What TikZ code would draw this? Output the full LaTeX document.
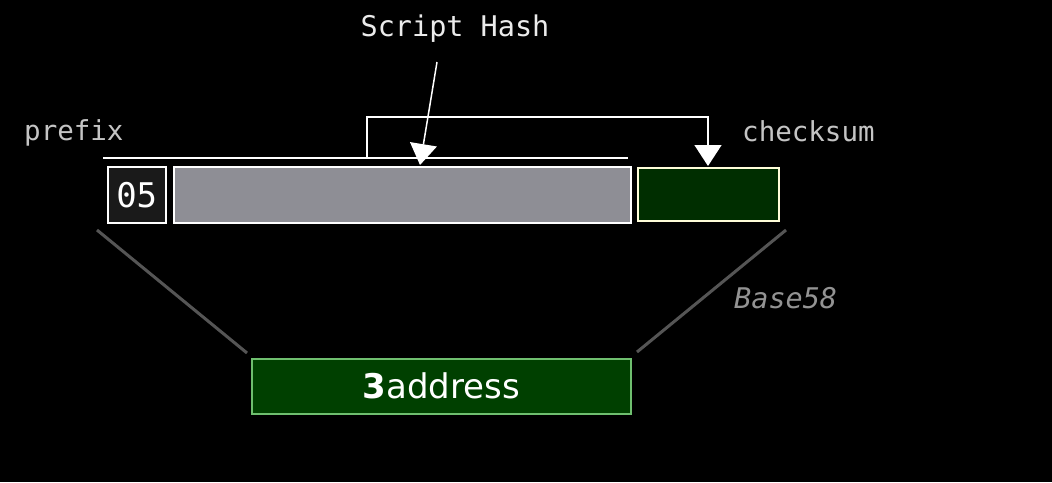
\documentclass[tikz,border=0pt]{standalone}
\usepackage{fontspec}
\setmainfont{DejaVu Sans}
\setmonofont{DejaVu Sans Mono}
\usetikzlibrary{arrows.meta}
\definecolor{lbl}{HTML}{C4C4C4}
\definecolor{hashgray}{HTML}{8E8E95}
\definecolor{chkgreen}{HTML}{002E00}
\definecolor{addrgreen}{HTML}{004000}
\definecolor{addredge}{HTML}{6FBF6F}
\definecolor{linkgray}{HTML}{555555}
\definecolor{darkbox}{HTML}{1A1A1A}
\tikzset{
  lbltext/.style={text=lbl, font=\ttfamily\fontsize{27.5}{30}\selectfont, inner sep=0pt},
  field/.style={draw=white, line width=1.5pt, inner sep=0pt, anchor=north west},
  bigarrow/.style={draw=white, line width=1.5pt, -{Triangle[width=27pt,length=21pt]}},
  link/.style={draw=linkgray, line width=3pt},
}
\begin{document}
\begin{tikzpicture}[x=1pt,y=-1pt]
\fill[black] (0,0) rectangle (1052,482);
\useasboundingbox (0,0) rectangle (1052,482);

% labels
\node[lbltext, text=white!92!black, font=\ttfamily\fontsize{28.5}{30}\selectfont] (sh) at (455,29) {Script Hash};
\node[lbltext, anchor=west] (prefixlbl) at (24,133) {prefix};
\node[lbltext, anchor=west] (checksumlbl) at (742,131) {checksum};
\node[lbltext, anchor=west, text=gray!85!white, font=\ttfamily\itshape\fontsize{28.5}{30}\selectfont] (base58) at (734,298) {Base58};

% fields
\node[field, fill=darkbox, minimum width=58pt, minimum height=56pt, text=white, font=\ttfamily\fontsize{34}{36}\selectfont] (b05) at (107,166) {05};
\node[field, fill=hashgray, minimum width=457pt, minimum height=56pt] (hash) at (173,166) {};
\node[field, draw=white!85!yellow, fill=chkgreen, minimum width=141pt, minimum height=53pt] (chk) at (637,167) {};
\node[field, draw=addredge, fill=addrgreen, minimum width=379pt, minimum height=55pt, text=white, font=\fontsize{34}{36}\selectfont] (addr) at (251,358) {\textbf{3}address};

% top line and bracket
\coordinate (tl0) at (103,158);
\coordinate (tl1) at (628,158);
\draw[white, line width=1.5pt] (tl0) -- (tl1);
\coordinate (brL) at (367,158);
\coordinate (brLt) at (367,117);
\coordinate (brRt) at (708,117);
\coordinate (brR) at (708,166);
\draw[bigarrow] (brL) -- (brLt) -- (brRt) -- (brR);

% script hash arrow
\coordinate (shs) at (437,62);
\coordinate (she) at (420,165);
\draw[bigarrow] (shs) -- (she);

% base58 links
\coordinate (lA) at (97,230);
\coordinate (lB) at (247,353);
\coordinate (rA) at (786,230);
\coordinate (rB) at (637,352);
\draw[link] (lA) -- (lB);
\draw[link] (rA) -- (rB);
\end{tikzpicture}
\end{document}
